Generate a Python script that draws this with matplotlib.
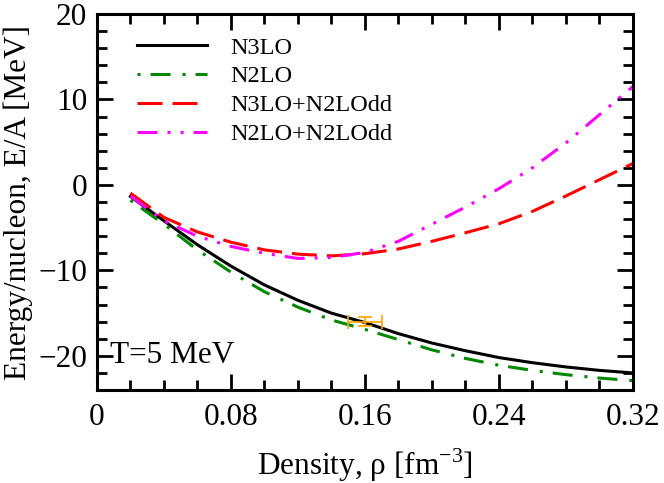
import matplotlib
matplotlib.use("Agg")
import matplotlib.pyplot as plt
from matplotlib.ticker import MultipleLocator

plt.rcParams['font.family'] = ['Liberation Serif', 'DejaVu Serif']
plt.rcParams['mathtext.fontset'] = 'custom'
plt.rcParams['mathtext.rm'] = 'Liberation Serif'
plt.rcParams['lines.scale_dashes'] = False

density = [0.02, 0.04, 0.06, 0.08, 0.10, 0.12, 0.14, 0.16,
           0.18, 0.20, 0.22, 0.24, 0.26, 0.28, 0.30, 0.32]
n3lo = [-1.35, -4.2, -7.0, -9.5, -11.7, -13.5, -15.0, -16.1,
        -17.4, -18.5, -19.4, -20.2, -20.8, -21.3, -21.7, -22.0]
n2lo = [-1.8, -4.6, -7.6, -10.2, -12.5, -14.3, -15.8, -16.9,
        -18.1, -19.3, -20.3, -21.1, -21.7, -22.2, -22.6, -22.9]
n3lo_dd = [-0.96, -3.8, -5.5, -6.7, -7.6, -8.1, -8.3, -8.05,
           -7.5, -6.6, -5.6, -4.55, -3.1, -1.3, 0.6, 2.5]
n2lo_dd = [-1.3, -4.2, -6.0, -7.2, -8.0, -8.6, -8.5, -7.9,
           -6.6, -4.6, -2.6, -0.45, 2.0, 4.9, 8.2, 11.5]

sat_rho = [0.16]
sat_e = [-16.0]
sat_rho_err = [0.01]
sat_e_err = [0.5]

labels = ['N3LO', 'N2LO', 'N3LO+N2LOdd', 'N2LO+N2LOdd']
xticks = [0, 0.08, 0.16, 0.24, 0.32]
xticklabels = ['0', '0.08', '0.16', '0.24', '0.32']
yticks = [-20, -10, 0, 10, 20]

fig = plt.figure(figsize=(6.64, 4.83), dpi=100)
ax = fig.add_axes([0.146, 0.1925, 0.807, 0.7785])

lw = 2.2
ax.plot(density, n3lo, color='black', lw=lw, label=labels[0])
ax.plot(density, n2lo, color='#008800', lw=lw, label=labels[1],
        dashes=(2.2, 7.2, 14.4, 8.6))
ax.plot(density, n3lo_dd, color='#ff0000', lw=lw, label=labels[2],
        dashes=(18, 7.2))
ax.plot(density, n2lo_dd, color='#ff00ff', lw=lw, label=labels[3],
        dashes=(14.4, 7.2, 2.2, 7.2, 2.2, 7.2))

ax.errorbar(sat_rho, sat_e, xerr=sat_rho_err, yerr=sat_e_err, fmt='none',
            ecolor='#ffa500', elinewidth=1.2, capsize=5, capthick=1.2)

ax.set_xlim(0, 0.32)
ax.set_ylim(-24, 20)
ax.set_xticks(xticks)
ax.set_xticklabels(xticklabels)
ax.set_yticks(yticks)
ax.xaxis.set_minor_locator(MultipleLocator(0.02))
ax.yaxis.set_minor_locator(MultipleLocator(2))
ax.tick_params(which='both', direction='in', top=True, right=True,
               labelsize=22.5, width=2.0)
ax.tick_params(axis='x', which='both', pad=9)
ax.tick_params(axis='y', which='both', pad=7)
ax.tick_params(which='major', length=11.5)
ax.tick_params(which='minor', length=7.2)
for s in ax.spines.values():
    s.set_linewidth(2.2)

ax.set_xlabel('Density, ρ [fm$^{\\mathrm{-3}}$]', fontsize=22.5, labelpad=11)
ax.set_ylabel('Energy/nucleon, E/A [MeV]', fontsize=22.5, labelpad=4)

ax.text(0.008, -20, 'T=5 MeV', fontsize=22.5, va='center', ha='left')

ax.legend(loc='upper left', bbox_to_anchor=(0.0746, 0.94), frameon=False,
          fontsize=17.5, handlelength=2.88, handletextpad=0.95,
          borderpad=0, borderaxespad=0, labelspacing=0.28)

fig.savefig('out.png', dpi=100)
